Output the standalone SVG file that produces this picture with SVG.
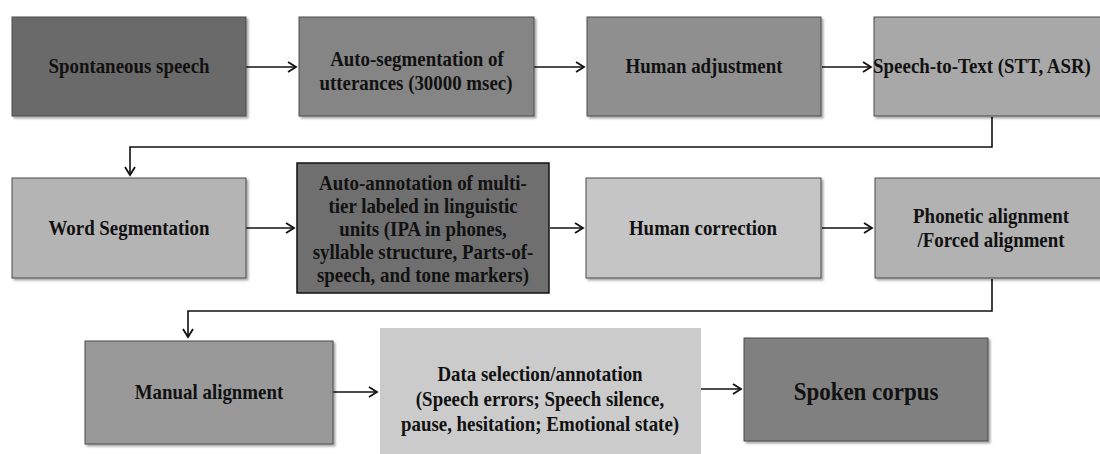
<svg xmlns="http://www.w3.org/2000/svg" width="1100" height="454" viewBox="0 0 1100 454">
<style>
.box{stroke:#4a4a4a;stroke-width:1;filter:url(#sh)}
.t{font-family:"Liberation Serif","Times New Roman",serif;font-weight:bold;font-size:21px;fill:#111;text-anchor:middle;dominant-baseline:central}
.big{font-size:25.5px}
.c{fill:none;stroke:#111;stroke-width:1.6}
</style>
<defs>
<filter id="sh" x="-5%" y="-5%" width="112%" height="115%">
<feDropShadow dx="2" dy="2" stdDeviation="1.2" flood-color="#000" flood-opacity="0.35"/>
</filter>
<marker id="ah" markerUnits="userSpaceOnUse" markerWidth="14" markerHeight="14" refX="10" refY="6" orient="auto">
<path d="M2,1 L10,6 L2,11" fill="none" stroke="#111" stroke-width="1.8"/>
</marker>
</defs>
<rect width="1100" height="454" fill="#fff"/>
<g id="connectors">
<line class="c" x1="246" y1="67" x2="296" y2="67" marker-end="url(#ah)"/>
<line class="c" x1="534" y1="67" x2="584" y2="67" marker-end="url(#ah)"/>
<line class="c" x1="822" y1="67" x2="871" y2="67" marker-end="url(#ah)"/>
<polyline class="c" points="992,117 992,147 130,147 130,175" marker-end="url(#ah)"/>
<line class="c" x1="246" y1="228" x2="294" y2="228" marker-end="url(#ah)"/>
<line class="c" x1="550" y1="228" x2="583" y2="228" marker-end="url(#ah)"/>
<line class="c" x1="822" y1="228" x2="872" y2="228" marker-end="url(#ah)" stroke-width="2.2"/>
<polyline class="c" points="992,279 992,311 188,311 188,337" marker-end="url(#ah)"/>
<line class="c" x1="333" y1="392" x2="377" y2="392" marker-end="url(#ah)"/>
<line class="c" x1="701" y1="389" x2="741" y2="389" marker-end="url(#ah)"/>
</g>
<g id="n1"><rect class="box" x="12" y="17" width="234" height="99" fill="#6a6a6a"/><text class="t" transform="translate(129,66) scale(0.9,1)">Spontaneous speech</text></g>
<g id="n2"><rect class="box" x="299" y="17" width="235" height="99" fill="#858585"/><text class="t" transform="translate(417,59) scale(0.9,1)">Auto-segmentation of</text><text class="t" transform="translate(416,83) scale(0.9,1)">utterances (30000 msec)</text></g>
<g id="n3"><rect class="box" x="587" y="17" width="234" height="99" fill="#8f8f8f"/><text class="t" transform="translate(704,66) scale(0.9,1)">Human adjustment</text></g>
<g id="n4"><rect class="box" x="874" y="17" width="240" height="99" fill="#a8a8a8"/><text class="t" transform="translate(982,66) scale(0.9,1)">Speech-to-Text (STT, ASR)</text></g>
<g id="n5"><rect class="box" x="12" y="178" width="234" height="100" fill="#b4b4b4"/><text class="t" transform="translate(129,228) scale(0.9,1)">Word Segmentation</text></g>
<g id="n6"><rect x="297" y="163" width="252" height="130" fill="#6f6f6f" stroke="#111" stroke-width="1.5"/>
<text class="t" transform="translate(423,183) scale(0.9,1)">Auto-annotation of multi-</text>
<text class="t" transform="translate(423,206) scale(0.9,1)">tier labeled in linguistic</text>
<text class="t" transform="translate(423,229) scale(0.9,1)">units (IPA in phones,</text>
<text class="t" transform="translate(423,252) scale(0.9,1)">syllable structure, Parts-of-</text>
<text class="t" transform="translate(423,275) scale(0.9,1)">speech, and tone markers)</text></g>
<g id="n7"><rect class="box" x="586" y="178" width="235" height="100" fill="#c5c5c5"/><text class="t" transform="translate(703,228) scale(0.9,1)">Human correction</text></g>
<g id="n8"><rect class="box" x="875" y="178" width="240" height="100" fill="#b2b2b2"/><text class="t" transform="translate(991,216) scale(0.9,1)">Phonetic alignment</text><text class="t" transform="translate(991,240) scale(0.9,1)">/Forced alignment</text></g>
<g id="n9"><rect class="box" x="85" y="341" width="248" height="103" fill="#999999"/><text class="t" transform="translate(209,392) scale(0.9,1)">Manual alignment</text></g>
<g id="n10"><rect x="380" y="328" width="321" height="130" fill="#cbcbcb"/>
<text class="t" transform="translate(540,374) scale(0.9,1)">Data selection/annotation</text>
<text class="t" transform="translate(540,399) scale(0.9,1)">(Speech errors; Speech silence,</text>
<text class="t" transform="translate(540,424) scale(0.9,1)">pause, hesitation; Emotional state)</text></g>
<g id="n11"><rect class="box" x="744" y="338" width="244" height="103" fill="#808080"/><text class="t big" transform="translate(866,391) scale(0.9,1)">Spoken corpus</text></g>
</svg>
